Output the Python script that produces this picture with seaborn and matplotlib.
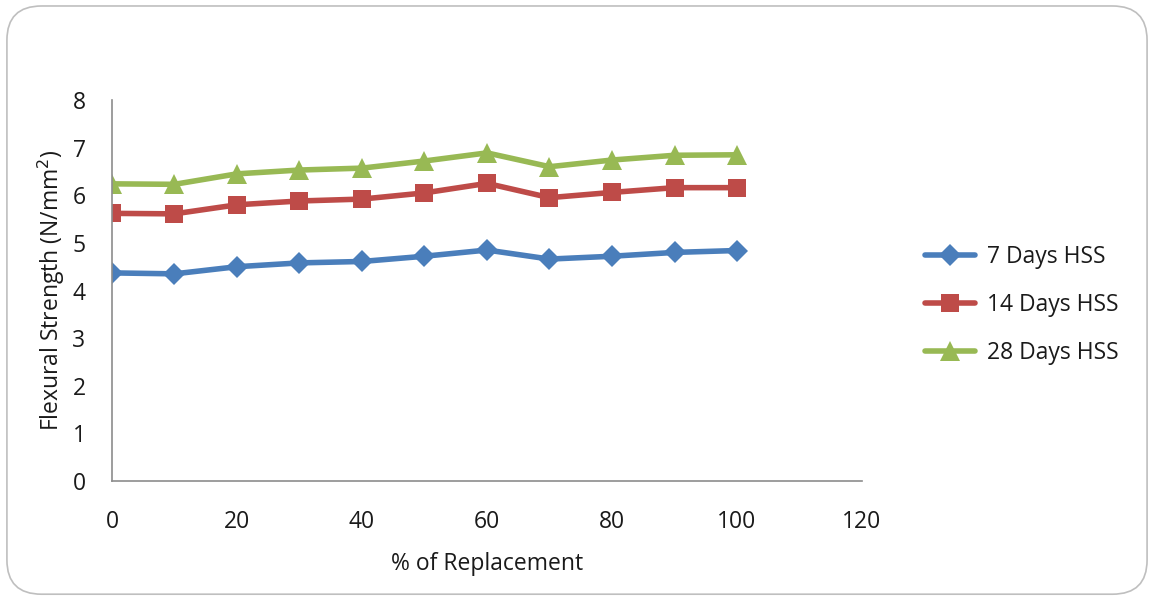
import matplotlib
matplotlib.use("Agg")
import matplotlib.pyplot as plt
from matplotlib.patches import FancyBboxPatch
import seaborn as sns
import pandas as pd

replacement = [0, 10, 20, 30, 40, 50, 60, 70, 80, 90, 100]
days7 = [4.37, 4.35, 4.50, 4.58, 4.61, 4.72, 4.85, 4.66, 4.72, 4.80, 4.84]
days14 = [5.62, 5.61, 5.80, 5.88, 5.92, 6.05, 6.25, 5.95, 6.06, 6.16, 6.16]
days28 = [6.24, 6.23, 6.45, 6.53, 6.57, 6.72, 6.89, 6.60, 6.74, 6.84, 6.85]
series_names = ["7 Days HSS", "14 Days HSS", "28 Days HSS"]

df = pd.DataFrame({
    "x": replacement * 3,
    "y": days7 + days14 + days28,
    "series": [series_names[0]] * 11 + [series_names[1]] * 11 + [series_names[2]] * 11,
})

sns.set_theme(style="white")
plt.rcParams["font.family"] = ["Open Sans", "DejaVu Sans"]

fig = plt.figure(figsize=(11.54, 5.99), dpi=100)
fig.patch.set_facecolor("white")
frame = FancyBboxPatch((0.006, 0.008), 0.988, 0.982,
                       boxstyle="round,pad=0,rounding_size=0.03",
                       transform=fig.transFigure, facecolor="none",
                       edgecolor="#BFBFBF", linewidth=1.2, mutation_aspect=1.9,
                       zorder=-1)
fig.patches.append(frame)

ax = fig.add_axes([0.097, 0.197, 0.650, 0.636])
ax.set_facecolor("none")
palette = {series_names[0]: "#4A7EBB", series_names[1]: "#BE4B48", series_names[2]: "#98B954"}
markers = {series_names[0]: "D", series_names[1]: "s", series_names[2]: "^"}
sizes_ms = {series_names[0]: 11, series_names[1]: 13, series_names[2]: 15}

for name in series_names:
    sub = df[df["series"] == name]
    sns.lineplot(data=sub, x="x", y="y", ax=ax, color=palette[name],
                 marker=markers[name], markersize=sizes_ms[name],
                 markeredgewidth=0, linewidth=4, label=name)

ax.set_xlim(0, 120)
ax.set_ylim(0, 8)
ax.set_xticks(range(0, 121, 20))
ax.set_yticks(range(0, 9))
ax.tick_params(axis="both", length=0, labelsize=16.5, colors="#1a1a1a")
ax.tick_params(axis="x", pad=21)
ax.tick_params(axis="y", pad=19)
for side in ["top", "right"]:
    ax.spines[side].set_visible(False)
for side in ["left", "bottom"]:
    ax.spines[side].set_color("#8C8C8C")
    ax.spines[side].set_linewidth(1.2)
ax.set_xlabel("% of Replacement", fontsize=16.5, color="#1a1a1a", labelpad=13)
ax.set_ylabel("Flexural Strength (N/mm$^2$)", fontsize=16.5, color="#1a1a1a", labelpad=4)

ax.legend(loc="center left", bbox_to_anchor=(1.084, 0.462), frameon=False,
          fontsize=16.5, handlelength=2.2, labelspacing=1.05, handletextpad=0.5,
          borderpad=0, borderaxespad=0, labelcolor="#1a1a1a")

fig.savefig("out.png", dpi=100)
